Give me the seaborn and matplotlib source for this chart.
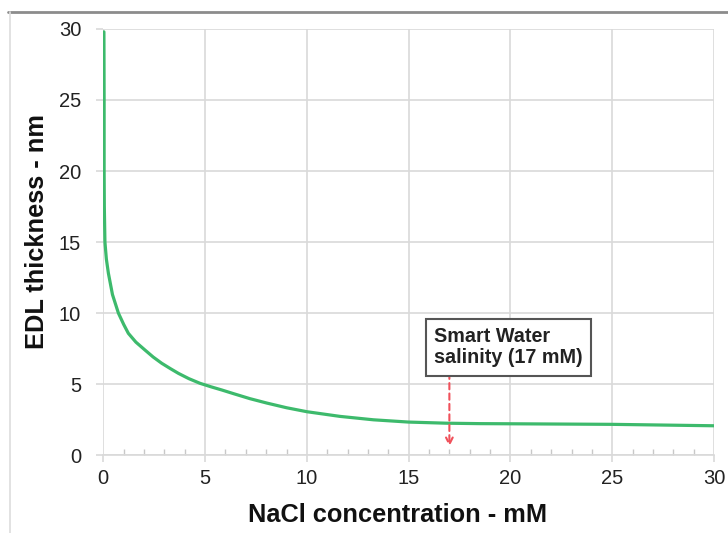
import matplotlib
matplotlib.use("Agg")
import matplotlib.pyplot as plt
import seaborn as sns
import pandas as pd
from matplotlib.lines import Line2D
from matplotlib.ticker import MultipleLocator

# Data
nacl_mM = [0.03, 0.035, 0.04, 0.04, 0.04, 0.05, 0.08, 0.15, 0.25, 0.45, 0.74, 1.0,
           1.23, 1.6, 2.05, 2.45, 2.87, 3.3, 3.69, 4.2, 4.75, 5.3, 5.82, 6.4, 7.2,
           8.03, 9.0, 10.0, 11.63, 13.27, 15.0, 16.87, 18.5, 20.0, 22.5, 25.0,
           27.5, 30.0]
edl_nm = [29.8, 27.5, 25.0, 22.5, 20.0, 17.5, 15.0, 13.8, 12.8, 11.3, 10.0, 9.2,
          8.57, 7.95, 7.39, 6.9, 6.46, 6.08, 5.75, 5.38, 5.05, 4.8, 4.58, 4.32, 3.97,
          3.66, 3.33, 3.05, 2.72, 2.48, 2.32, 2.24, 2.21, 2.2, 2.18, 2.16,
          2.11, 2.06]
x_ticks = [0, 5, 10, 15, 20, 25, 30]
y_ticks = [0, 5, 10, 15, 20, 25, 30]
annot_text = "Smart Water\nsalinity (17 mM)"
annot_x = 17

df = pd.DataFrame({"NaCl": nacl_mM, "EDL": edl_nm})

sns.set_theme(style="white")
plt.rcParams["font.family"] = ["Liberation Sans", "DejaVu Sans"]

fig = plt.figure(figsize=(7.28, 5.33), dpi=100)
ax = fig.add_axes([0.1419, 0.1463, 0.8389, 0.7993])

sns.lineplot(data=df, x="NaCl", y="EDL", ax=ax, color="#3dba6c", linewidth=2.3,
             sort=False, estimator=None, solid_joinstyle="round")

ax.set_xlim(0, 30)
ax.set_ylim(0, 30)
ax.set_xticks(x_ticks)
ax.set_yticks(y_ticks)
ax.xaxis.set_minor_locator(MultipleLocator(1))
ax.grid(True, which="major", color="#d9d9d9", linewidth=1.2)
ax.set_axisbelow(True)
for s in ["top", "right", "left"]:
    ax.spines[s].set_visible(False)
ax.spines["bottom"].set_color("#d9d9d9")
ax.spines["bottom"].set_linewidth(1.2)

ax.tick_params(axis="x", which="major", direction="out", length=5, width=1.2,
               color="#d9d9d9", labelsize=14.5, labelcolor="#222222", pad=5)
ax.tick_params(axis="x", which="minor", direction="in", length=4, width=1.0,
               color="#c8c8c8")
ax.tick_params(axis="y", which="major", direction="out", length=5, width=1.2,
               color="#d9d9d9", labelsize=14.5, labelcolor="#222222", pad=11)
ax.tick_params(bottom=True, left=True)
ax.tick_params(axis="x", which="minor", bottom=True)

ax.set_xlabel("NaCl concentration - mM", fontsize=18.3, fontweight="bold",
              color="#111111")
ax.set_ylabel("EDL thickness - nm", fontsize=18.3, fontweight="bold",
              color="#111111")
ax.xaxis.set_label_coords(0.4818, -0.112)
ax.yaxis.set_label_coords(-0.089, 0.5235)

# annotation box with dashed arrow
ax.annotate("", xy=(annot_x, 0.6), xytext=(annot_x, 5.8),
            arrowprops=dict(arrowstyle="->", color="#f0505a", linestyle=(0, (3, 2)),
                            linewidth=1.5, shrinkA=0, shrinkB=0,
                            mutation_scale=12))
ax.text(16.25, 9.0, annot_text, fontsize=14.2, fontweight="bold", color="#222222",
        ha="left", va="top", linespacing=1.15,
        bbox=dict(boxstyle="square,pad=0.42", facecolor="white",
                  edgecolor="#555555", linewidth=1.5))

# outer frame lines (top and left)
fig.add_artist(Line2D([8 / 728, 1.0], [1 - 12 / 533, 1 - 12 / 533],
                      color="#8c8c8c", linewidth=2.0, transform=fig.transFigure))
fig.add_artist(Line2D([10 / 728, 10 / 728], [0.0, 1 - 12 / 533],
                      color="#dddddd", linewidth=1.2, transform=fig.transFigure))

fig.savefig("out.png", dpi=100)
